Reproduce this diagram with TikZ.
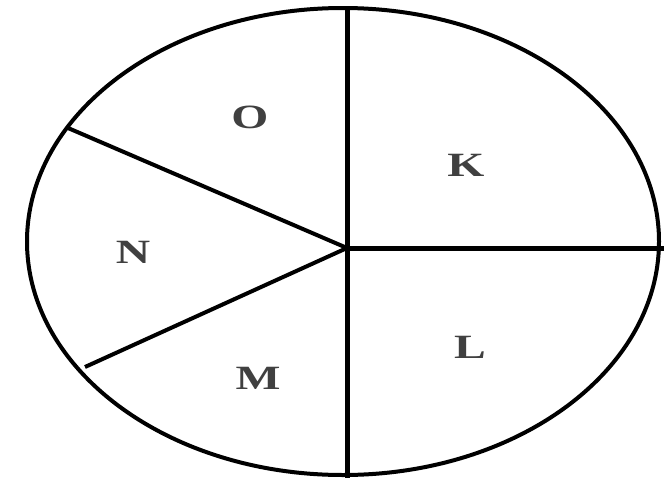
\documentclass[tikz,border=0pt]{standalone}
\usepackage{fontspec}
\setmainfont{Liberation Serif}
\begin{document}
\begin{tikzpicture}[x=1pt,y=-1pt,
  rim/.style={line width=4pt},
  axis/.style={line width=5pt},
  spoke/.style={line width=4pt},
  lbl/.style={font=\fontsize{34}{34}\selectfont\bfseries, text=black!75, xscale=1.4, inner sep=0pt}]
\useasboundingbox (0,0) rectangle (664,482);
\coordinate (c) at (347,248);
\coordinate (top) at (347,6);
\coordinate (bot) at (347,478);
\coordinate (right) at (664,248);
\coordinate (ul) at (68,128);
\coordinate (ll) at (85,367);
\draw[rim] (343,241.5) ellipse [x radius=316, y radius=233.5];
\draw[axis] (top) -- (bot);
\draw[axis] (c) -- (right);
\draw[spoke] (ul) -- (c) -- (ll);
\node[lbl] (O) at (250,117) {O};
\node[lbl] (K) at (466,165) {K};
\node[lbl] (N) at (133,252) {N};
\node[lbl] (L) at (470,347) {L};
\node[lbl] (M) at (258,378) {M};
\end{tikzpicture}
\end{document}
